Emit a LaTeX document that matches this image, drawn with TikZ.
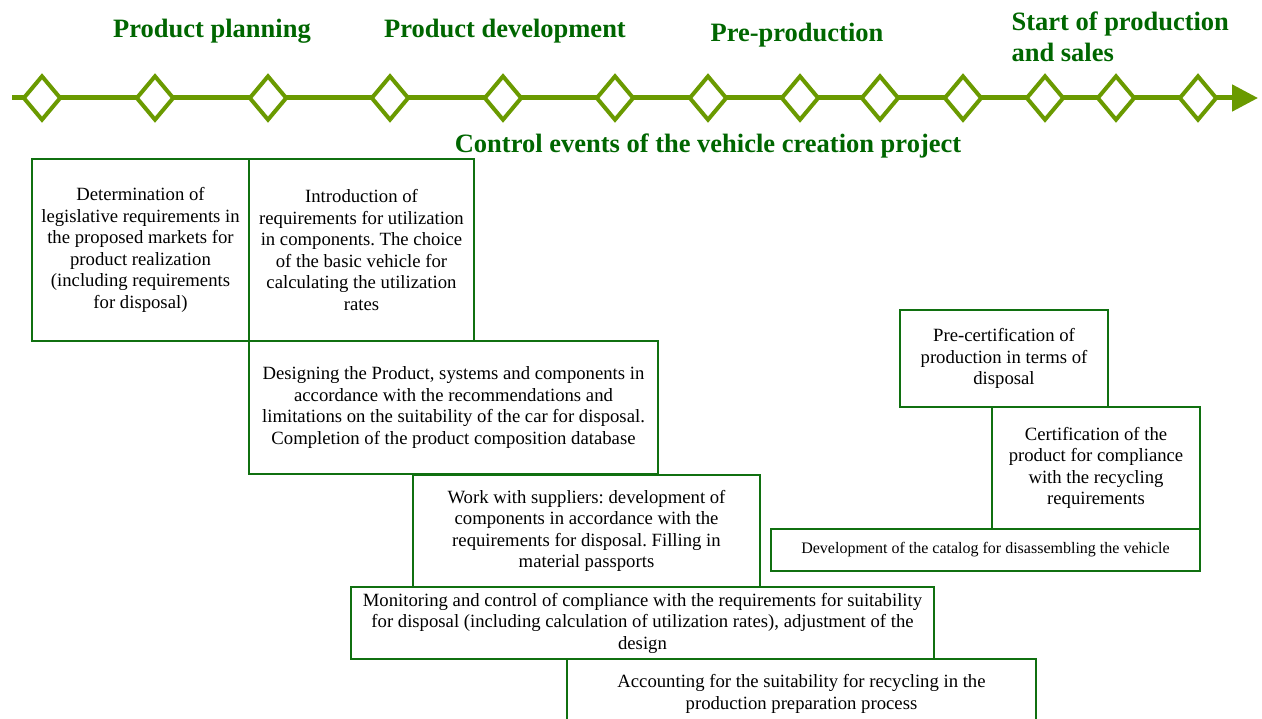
\documentclass[tikz,border=0pt]{standalone}
\usepackage{fontspec}
\setmainfont{Liberation Serif}
\frenchspacing
\usetikzlibrary{arrows.meta,shapes.geometric}
\definecolor{leafgreen}{RGB}{106,154,0}
\definecolor{phasegreen}{RGB}{0,102,0}
\definecolor{boxgreen}{RGB}{16,112,16}
\tikzset{
	timeline/.style={draw=leafgreen, line width=5pt, -{Triangle[length=26pt,width=26pt]}},
	milestone/.style={diamond, draw=leafgreen, fill=white, line width=4pt, minimum width=38pt, minimum height=45pt, inner sep=0pt},
	phase/.style={text=phasegreen, font=\bfseries\fontsize{26.5}{31}\selectfont, anchor=base, align=left},
	stage/.style={draw=boxgreen, line width=1.8pt, align=center, inner sep=0pt, font=\fontsize{18.7}{21.5}\selectfont}
}

\begin{document}
\begin{tikzpicture}[x=1pt,y=-1pt]
	\useasboundingbox (0,0) rectangle (1262,719);
	% time axis with the milestones
	\coordinate (tlstart) at (12,98);
	\coordinate (tlend) at (1258,98);
	\draw [timeline] (tlstart) to (tlend);
	\foreach \x [count=\i] in {42,155,268,390,503,615,708,800,880,963,1045,1116,1198}
		\node [milestone] (m\i) at (\x,98) {};

	% phases
	\node [phase] (planning) at (212,38) {Product planning};
	\node [phase] (development) at (505,38) {Product development};
	\node [phase] (preprod) at (797,42) {Pre-production};
	\node [phase, anchor=north west] (sop) at (1008,8) {Start of production\\and sales};
	\node [phase] (caption) at (708,153) {Control events of the vehicle creation project};

	% activities
	\node [stage, minimum width=217, minimum height=182] (legal) at (140.5,250)
		{Determination of\\legislative requirements in\\the proposed markets for\\product realization\\(including requirements\\for disposal)};
	\node [stage, minimum width=225, minimum height=182] (intro) at (361.5,250)
		{Introduction of\\requirements for utilization\\in components. The choice\\of the basic vehicle for\\calculating the utilization\\rates};
	\node [stage, minimum width=409, minimum height=133] (design) at (453.5,407.5)
		{Designing the Product, systems and components in\\accordance with the recommendations and\\limitations on the suitability of the car for disposal.\\Completion of the product composition database};
	\node [stage, minimum width=347, minimum height=112] (suppliers) at (586.5,531)
		{Work with suppliers: development of\\components in accordance with the\\requirements for disposal. Filling in\\material passports};
	\node [stage, minimum width=583, minimum height=72] (monitoring) at (642.5,623)
		{Monitoring and control of compliance with the requirements for suitability\\for disposal (including calculation of utilization rates), adjustment of the\\design};
	\node [stage, minimum width=469, minimum height=70] (recycling) at (801.5,694)
		{Accounting for the suitability for recycling in the\\production preparation process};
	\node [stage, minimum width=208, minimum height=97] (precert) at (1004,358.5)
		{Pre-certification of\\production in terms of\\disposal};
	\node [stage, minimum width=208, minimum height=122] (cert) at (1096,468)
		{Certification of the\\product for compliance\\with the recycling\\requirements};
	\node [stage, minimum width=429, minimum height=42, font=\fontsize{16}{19}\selectfont] (catalog) at (985.5,550)
		{Development of the catalog for disassembling the vehicle};
\end{tikzpicture}
\end{document}
